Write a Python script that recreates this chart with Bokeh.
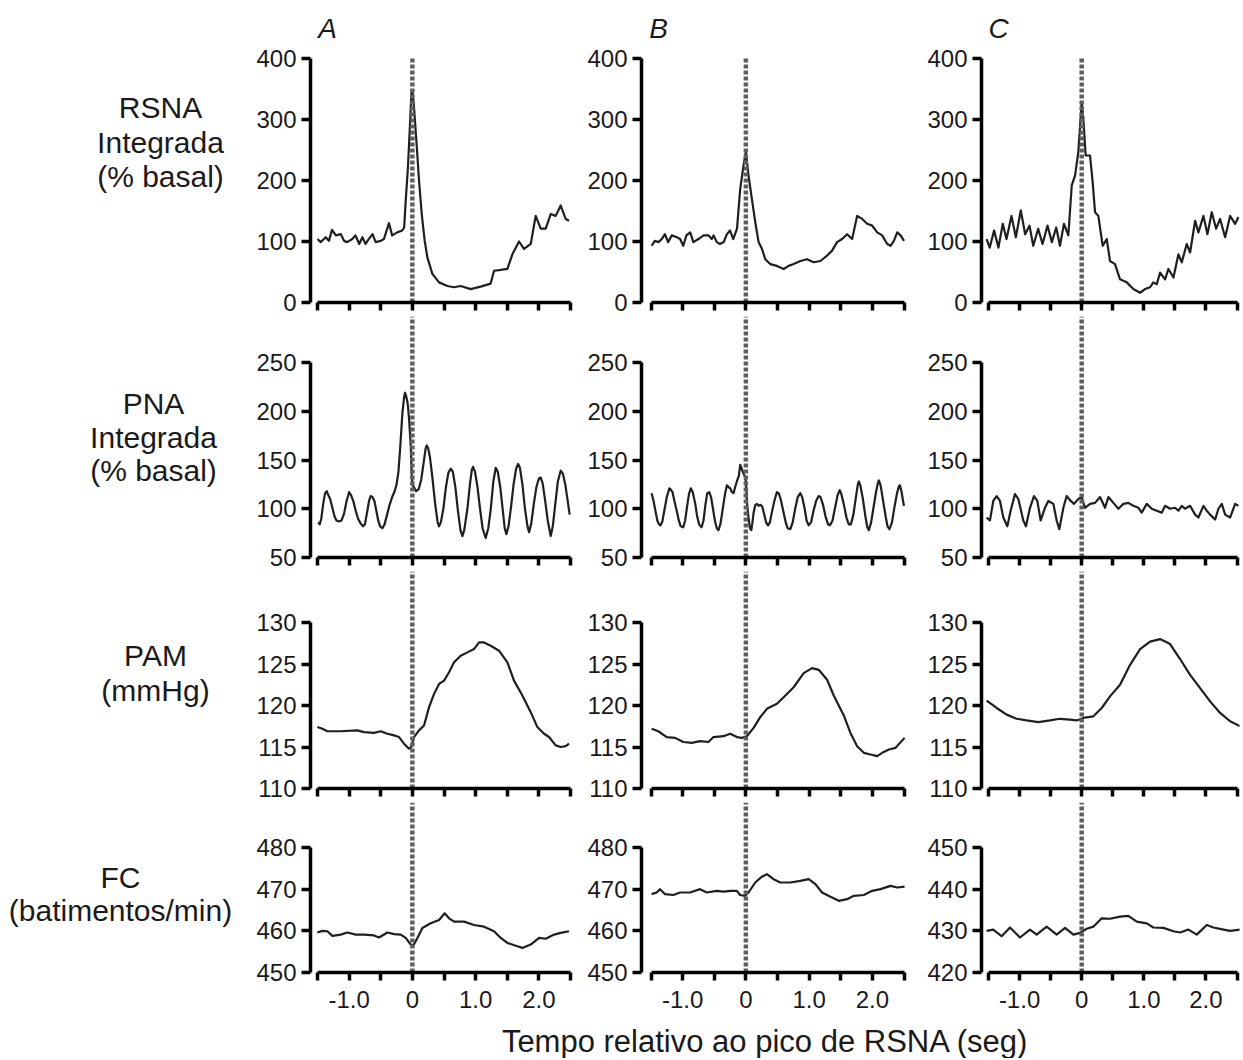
from bokeh.plotting import figure
from bokeh.layouts import row, column
from bokeh.models import Range1d, FixedTicker, CustomJSTickFormatter
from bokeh.core.properties import value
from bokeh.embed import file_html
from bokeh.resources import INLINE

FONT = "Liberation Sans"
LINE_COLOR = "#1f1f1f"
DASH_COLOR = "#5e5e5e"
TEXT_COLOR = "#1a1a1a"

# ---------------- texts / ticks ----------------
peak_time = 0.0
x_ticks = [-1.5, -1.0, -0.5, 0.0, 0.5, 1.0, 1.5, 2.0, 2.5]
col_letters = ["A", "B", "C"]
row_labels = [["RSNA", "Integrada", "(% basal)"],
              ["PNA", "Integrada", "(% basal)"],
              ["PAM", "(mmHg)"],
              ["FC", "(batimentos/min)"]]
x_title = "Tempo relativo ao pico de RSNA (seg)"

rsna_ticks = [0, 100, 200, 300, 400]
pna_ticks = [50, 100, 150, 200, 250]
pam_ticks = [110, 115, 120, 125, 130]
fc_ticks_ab = [450, 460, 470, 480]
fc_ticks_c = [420, 430, 440, 450]

# ---------------- data ----------------
rsna_a_t = [-1.50, -1.45, -1.37, -1.32, -1.27, -1.21, -1.13, -1.08, -1.03, -0.95, -0.90, -0.84, -0.79, -0.74, -0.69,
            -0.63, -0.58, -0.50, -0.45, -0.37, -0.32, -0.24, -0.16, -0.13, -0.105, -0.07, -0.037, -0.016, 0.0, 0.026,
            0.063, 0.105, 0.148, 0.195, 0.237, 0.316, 0.422, 0.553, 0.659, 0.764, 0.922, 1.080, 1.238, 1.291, 1.370,
            1.502, 1.581, 1.686, 1.765, 1.871, 1.950, 2.029, 2.108, 2.187, 2.266, 2.345, 2.424, 2.477]
rsna_a_v = [104, 99, 107, 101, 119, 110, 112, 101, 99, 104, 110, 96, 107, 96, 104,
            112, 99, 101, 104, 130, 110, 115, 118, 123, 167, 222, 293, 342, 348, 320,
            266, 200, 145, 101, 74, 47, 33, 27, 25, 27, 22, 26, 31, 52, 53,
            55, 79, 100, 88, 96, 142, 121, 121, 145, 142, 159, 137, 134]

rsna_b_t = [-1.49, -1.44, -1.38, -1.33, -1.28, -1.23, -1.17, -1.09, -1.04, -0.99, -0.94, -0.88, -0.83, -0.75, -0.67,
            -0.59, -0.54, -0.51, -0.46, -0.41, -0.35, -0.30, -0.25, -0.20, -0.14, -0.09, -0.037, 0.0, 0.042, 0.095,
            0.148, 0.201, 0.254, 0.306, 0.386, 0.491, 0.597, 0.676, 0.755, 0.861, 0.967, 1.072, 1.178, 1.284, 1.363,
            1.442, 1.521, 1.601, 1.680, 1.759, 1.838, 1.918, 1.997, 2.076, 2.155, 2.235, 2.287, 2.340, 2.393, 2.446,
            2.50]
rsna_b_v = [93, 101, 99, 104, 112, 99, 110, 107, 104, 93, 110, 115, 99, 104, 110,
            110, 104, 110, 99, 96, 99, 112, 118, 104, 121, 186, 225, 247, 208, 170,
            132, 99, 88, 71, 63, 60, 55, 60, 63, 68, 71, 66, 68, 77, 85,
            99, 104, 112, 104, 142, 137, 129, 126, 115, 110, 96, 93, 101, 115, 110,
            101]

rsna_c_t = [-1.53, -1.48, -1.41, -1.34, -1.27, -1.21, -1.13, -1.06, -0.98, -0.91, -0.84, -0.78, -0.70, -0.63, -0.55,
            -0.48, -0.41, -0.35, -0.285, -0.215, -0.16, -0.107, -0.054, 0.0, 0.027, 0.064, 0.134, 0.177, 0.215, 0.268,
            0.338, 0.403, 0.456, 0.537, 0.617, 0.725, 0.832, 0.940, 1.020, 1.101, 1.154, 1.208, 1.262, 1.342, 1.396,
            1.477, 1.557, 1.611, 1.691, 1.745, 1.826, 1.879, 1.960, 2.024, 2.094, 2.164, 2.228, 2.309, 2.389, 2.470,
            2.523]
rsna_c_v = [104, 90, 118, 90, 129, 104, 142, 107, 151, 112, 126, 93, 121, 96, 126,
            99, 123, 93, 129, 110, 192, 208, 247, 329, 301, 241, 241, 197, 148, 142,
            93, 104, 68, 63, 38, 33, 22, 16, 22, 25, 33, 30, 49, 38, 55,
            41, 79, 66, 96, 82, 134, 115, 142, 112, 148, 121, 137, 107, 142, 129,
            140]

pna_a_t = [-1.491, -1.465, -1.44, -1.41, -1.38, -1.354, -1.33, -1.30, -1.265, -1.23, -1.20, -1.16, -1.12, -1.08,
           -1.04, -1.001, -0.97, -0.93, -0.896, -0.86, -0.82, -0.78, -0.75, -0.72, -0.685, -0.66, -0.632, -0.60,
           -0.57, -0.54, -0.51, -0.474, -0.44, -0.40, -0.36, -0.32, -0.28, -0.25, -0.22, -0.19, -0.158, -0.13,
           -0.116, -0.10, -0.08, -0.069, -0.05, -0.026, -0.01, 0.005, 0.026, 0.06, 0.10, 0.14, 0.18, 0.21, 0.227,
           0.25, 0.28, 0.32, 0.36, 0.40, 0.422, 0.45, 0.49, 0.53, 0.57, 0.606, 0.64, 0.68, 0.72, 0.76, 0.791, 0.82,
           0.87, 0.91, 0.94, 0.959, 0.99, 1.03, 1.07, 1.11, 1.159, 1.20, 1.24, 1.28, 1.318, 1.35, 1.39, 1.43, 1.46,
           1.486, 1.52, 1.56, 1.60, 1.64, 1.671, 1.70, 1.74, 1.78, 1.82, 1.845, 1.88, 1.92, 1.96, 2.00, 2.029, 2.06,
           2.10, 2.14, 2.187, 2.22, 2.26, 2.30, 2.345, 2.38, 2.42, 2.46, 2.487]
pna_a_v = [86, 84, 90, 105, 116, 118, 114, 110, 101, 92, 88, 87, 88, 95,
           108, 117, 114, 107, 98, 90, 85, 82, 84, 95, 108, 113, 112, 108,
           98, 88, 82, 80, 84, 94, 104, 112, 118, 125, 138, 165, 198, 215,
           219, 216, 210, 205, 190, 165, 135, 124, 122, 118, 120, 130, 148, 162, 165,
           162, 152, 130, 105, 86, 82, 86, 100, 122, 137, 141, 138, 122, 98, 78, 72, 78,
           100, 125, 140, 143, 138, 122, 100, 80, 70, 80, 100, 128, 142, 138, 122, 98, 80,
           74, 82, 102, 125, 141, 146, 142, 125, 100, 82, 76, 85, 105, 122, 131, 132, 126,
           108, 88, 72, 82, 105, 128, 139, 136, 124, 106, 94]

pna_b_t = [-1.49, -1.46, -1.43, -1.40, -1.373, -1.35, -1.32, -1.29, -1.25, -1.21, -1.19, -1.16, -1.13, -1.09,
           -1.06, -1.03, -0.99, -0.96, -0.93, -0.90, -0.87, -0.84, -0.80, -0.77, -0.74, -0.70, -0.67, -0.64, -0.61,
           -0.58, -0.55, -0.52, -0.49, -0.46, -0.433, -0.40, -0.37, -0.33, -0.30, -0.27, -0.248, -0.22, -0.195,
           -0.17, -0.143, -0.11, -0.09, -0.06, -0.037, -0.015, 0.0, 0.02, 0.042, 0.065, 0.085, 0.10, 0.122, 0.15,
           0.175, 0.20, 0.23, 0.26, 0.29, 0.32, 0.35, 0.38, 0.41, 0.45, 0.49, 0.518, 0.55, 0.59, 0.63, 0.66, 0.703,
           0.74, 0.78, 0.82, 0.861, 0.89, 0.93, 0.96, 0.993, 1.03, 1.07, 1.11, 1.15, 1.18, 1.22, 1.26, 1.30, 1.33,
           1.37, 1.41, 1.45, 1.484, 1.51, 1.55, 1.59, 1.627, 1.66, 1.70, 1.74, 1.77, 1.786, 1.81, 1.85, 1.89, 1.92,
           1.944, 1.98, 2.02, 2.06, 2.09, 2.102, 2.13, 2.17, 2.21, 2.24, 2.27, 2.31, 2.35, 2.39, 2.42, 2.435, 2.46,
           2.48, 2.499]
pna_b_v = [116, 108, 98, 88, 84, 83, 87, 98, 112, 121, 120, 117, 108, 97,
           88, 82, 81, 88, 102, 115, 121, 117, 105, 92, 84, 81, 88, 104, 116,
           117, 112, 100, 88, 80, 78, 85, 98, 115, 124, 122, 121, 117, 116,
           122, 128, 134, 145, 140, 136, 133, 128, 105, 90, 80, 78, 84, 96, 104,
           105, 103, 104, 102, 94, 86, 83, 86, 96, 108, 117, 116, 110, 98, 86, 80, 79,
           86, 100, 112, 116, 112, 100, 88, 83, 86, 98, 108, 113, 112, 104, 92, 84, 83,
           88, 101, 114, 119, 115, 104, 91, 84, 84, 94, 112, 125, 128, 124, 110, 92, 81,
           78, 86, 102, 118, 127, 129, 124, 108, 92, 82, 79, 86, 102, 116, 123, 124, 118,
           110, 103]

pna_c_t = [-1.530, -1.477, -1.423, -1.369, -1.315, -1.262, -1.197, -1.144, -1.074, -1.020, -0.940, -0.897, -0.832,
           -0.768, -0.714, -0.660, -0.591, -0.537, -0.456, -0.403, -0.360, -0.295, -0.242, -0.177, -0.123, -0.054,
           0.0, 0.054, 0.134, 0.215, 0.295, 0.376, 0.430, 0.510, 0.591, 0.671, 0.752, 0.832, 0.913, 0.966, 1.047,
           1.128, 1.208, 1.289, 1.342, 1.423, 1.503, 1.557, 1.611, 1.664, 1.745, 1.826, 1.879, 1.960, 2.013, 2.067,
           2.148, 2.201, 2.255, 2.309, 2.389, 2.470, 2.523]
pna_c_v = [91, 88, 108, 113, 108, 91, 82, 98, 115, 110, 88, 82, 101,
           113, 108, 88, 101, 108, 105, 88, 79, 101, 113, 108, 105, 110,
           112, 101, 105, 106, 112, 101, 112, 106, 100, 105, 106, 103, 101, 96, 105,
           100, 98, 96, 103, 100, 101, 98, 103, 100, 103, 94, 91, 103, 98, 94,
           89, 100, 105, 94, 91, 105, 103]

pam_a_t = [-1.502, -1.423, -1.344, -1.133, -0.870, -0.764, -0.606, -0.501, -0.395, -0.290, -0.211, -0.132, -0.053,
           -0.016, 0.026, 0.105, 0.184, 0.264, 0.343, 0.422, 0.501, 0.580, 0.659, 0.764, 0.870, 0.975, 1.054, 1.133,
           1.238, 1.370, 1.502, 1.607, 1.739, 1.871, 1.976, 2.082, 2.161, 2.266, 2.345, 2.424, 2.477]
pam_a_v = [117.4, 117.2, 116.9, 116.9, 117.0, 116.8, 116.7, 116.9, 116.6, 116.4, 116.2, 115.4, 114.8,
           115.0, 116.2, 117.0, 117.6, 119.8, 121.4, 122.6, 123.0, 124.0, 125.2, 126.0, 126.4, 126.8, 127.6, 127.6,
           127.2, 126.6, 125.2, 123.0, 121.2, 119.2, 117.4, 116.6, 116.2, 115.2, 115.0, 115.1, 115.4]

pam_b_t = [-1.490, -1.384, -1.252, -1.120, -0.988, -0.856, -0.724, -0.592, -0.512, -0.354, -0.248, -0.143, -0.063,
           0.016, 0.122, 0.227, 0.333, 0.491, 0.597, 0.755, 0.914, 1.046, 1.152, 1.284, 1.389, 1.548, 1.653, 1.759,
           1.865, 1.970, 2.076, 2.155, 2.261, 2.367, 2.509]
pam_b_v = [117.2, 116.9, 116.2, 116.1, 115.6, 115.5, 115.7, 115.6, 116.2, 116.3, 116.6, 116.2, 116.1,
           116.3, 117.3, 118.6, 119.6, 120.2, 121.0, 122.2, 123.9, 124.5, 124.3, 123.1, 121.2, 118.8, 116.7, 115.1,
           114.3, 114.1, 113.9, 114.3, 114.7, 114.9, 116.1]

pam_c_t = [-1.530, -1.369, -1.208, -1.047, -0.886, -0.698, -0.510, -0.349, -0.188, -0.081, 0.027, 0.188, 0.322,
           0.456, 0.617, 0.779, 0.940, 1.101, 1.262, 1.423, 1.584, 1.745, 1.906, 2.067, 2.228, 2.389, 2.550]
pam_c_v = [120.6, 119.7, 118.9, 118.4, 118.2, 118.0, 118.2, 118.4, 118.3, 118.2, 118.5, 118.7, 119.7,
           121.1, 122.5, 124.9, 126.8, 127.7, 128.0, 127.4, 125.6, 123.7, 122.1, 120.5, 119.1, 118.1, 117.5]

fc_a_t = [-1.502, -1.423, -1.344, -1.265, -1.133, -1.028, -0.896, -0.764, -0.606, -0.527, -0.395, -0.290, -0.184,
          -0.105, -0.026, 0.016, 0.079, 0.158, 0.290, 0.422, 0.511, 0.580, 0.659, 0.817, 0.975, 1.133, 1.291, 1.397,
          1.502, 1.660, 1.739, 1.871, 2.003, 2.108, 2.240, 2.345, 2.477]
fc_a_v = [459.6, 460.0, 459.9, 458.8, 459.1, 459.6, 459.1, 459.1, 458.9, 458.4, 459.6, 459.2, 459.1,
          458.3, 456.7, 456.5, 458.3, 460.7, 461.8, 462.6, 464.2, 463.0, 462.2, 462.2, 461.4, 461.0, 459.9, 458.3,
          457.1, 456.3, 455.9, 456.7, 458.3, 458.1, 459.1, 459.5, 459.9]

fc_b_t = [-1.490, -1.410, -1.358, -1.278, -1.146, -1.041, -0.882, -0.724, -0.618, -0.460, -0.354, -0.248, -0.143,
          -0.090, -0.011, 0.042, 0.148, 0.254, 0.333, 0.438, 0.544, 0.703, 0.861, 0.993, 1.099, 1.204, 1.337, 1.469,
          1.601, 1.706, 1.865, 1.997, 2.129, 2.287, 2.393, 2.509]
fc_b_v = [468.8, 469.2, 470.0, 468.8, 468.6, 469.2, 469.2, 470.0, 469.2, 469.6, 469.4, 469.6, 469.6,
          468.6, 468.4, 469.2, 471.6, 473.0, 473.6, 472.4, 471.6, 471.6, 472.0, 472.4, 471.2, 469.2, 468.2, 467.2,
          467.6, 468.4, 468.6, 469.6, 470.0, 470.8, 470.4, 470.6]

fc_c_t = [-1.530, -1.423, -1.289, -1.154, -0.993, -0.832, -0.725, -0.564, -0.403, -0.268, -0.134, -0.027, 0.081,
          0.188, 0.322, 0.456, 0.617, 0.752, 0.886, 1.047, 1.154, 1.315, 1.477, 1.584, 1.718, 1.852, 2.013, 2.121,
          2.282, 2.389, 2.550]
fc_c_v = [430.0, 430.3, 428.7, 430.8, 428.4, 430.3, 429.1, 431.0, 429.1, 430.7, 429.1, 429.5, 430.5,
          431.0, 433.0, 432.9, 433.4, 433.6, 432.2, 431.8, 430.8, 430.7, 429.9, 429.6, 430.3, 429.1, 431.4, 430.8,
          430.3, 430.0, 430.3]

series = [
    [(rsna_a_t, rsna_a_v, rsna_ticks), (rsna_b_t, rsna_b_v, rsna_ticks), (rsna_c_t, rsna_c_v, rsna_ticks)],
    [(pna_a_t, pna_a_v, pna_ticks), (pna_b_t, pna_b_v, pna_ticks), (pna_c_t, pna_c_v, pna_ticks)],
    [(pam_a_t, pam_a_v, pam_ticks), (pam_b_t, pam_b_v, pam_ticks), (pam_c_t, pam_c_v, pam_ticks)],
    [(fc_a_t, fc_a_v, fc_ticks_ab), (fc_b_t, fc_b_v, fc_ticks_ab), (fc_c_t, fc_c_v, fc_ticks_c)],
]
for rr in series:
    for tt, vv, _ in rr:
        assert len(tt) == len(vv), (len(tt), len(vv))

# ---------------- layout (page pixel geometry) ----------------
MBL = 66
COLS = [dict(fl=310, xa=317, xb=570, fr=574, mbr=1),
        dict(fl=641, xa=650.5, xb=903.5, fr=907, mbr=8),
        dict(fl=981, xa=988, xb=1236.5, fr=1239, mbr=1)]
ROWS = [dict(ft=0, ytop=58, ybot=302, mbb=14),
        dict(ft=316, ytop=362, ybot=557, mbb=14),
        dict(ft=571, ytop=622, ybot=788, mbb=14),
        dict(ft=802, ytop=847, ybot=972, mbb=42)]
LETTER_POS = [(327, 28), (658, 28), (998, 28)]
DASH_TOP_ROW1 = 56
ROW_LABEL_POS = [(160, [107, 142, 176]), (153, [403, 437, 470]), (155, [655, 690]), (120, [877, 910])]
TITLE_POS = (765, 1041)
PAGE_LEFT, GRID_BOTTOM, PAGE_BOTTOM = 0, 1014, 1058
PAGE_RIGHT = 1240

TICK_FS = "24px"
LABEL_FS = "30px"
AXIS_W = 3.5

label_code = """
if (Math.abs(tick) < 1e-9) return "0";
if (Math.abs(tick - Math.round(tick)) < 1e-9) return tick.toFixed(1);
return "";
"""

columns = []
for c, cg in enumerate(COLS):
    figs = []
    xscale = (cg["xb"] - cg["xa"]) / 4.0
    x_start = -1.5 - (cg["xa"] - cg["fl"]) / xscale
    x_end = 2.5 + (cg["fr"] - cg["xb"]) / xscale
    for r, rg in enumerate(ROWS):
        tt, vv, ticks = series[r][c]
        ymin, ymax = ticks[0], ticks[-1]
        yscale = (rg["ybot"] - rg["ytop"]) / float(ymax - ymin)
        y_end = ymin + (rg["ybot"] - rg["ft"]) / yscale
        w = MBL + (cg["fr"] - cg["fl"]) + cg["mbr"]
        h = (rg["ybot"] - rg["ft"]) + rg["mbb"]
        p = figure(width=w, height=h, x_range=Range1d(x_start, x_end), y_range=Range1d(ymin, y_end),
                   min_border_left=MBL, min_border_right=cg["mbr"], min_border_top=0,
                   min_border_bottom=rg["mbb"], toolbar_location=None, output_backend="svg", tools="")
        p.grid.visible = False
        p.outline_line_color = None
        p.background_fill_color = "white"
        p.border_fill_color = "white"

        for ax in (p.xaxis[0], p.yaxis[0]):
            ax.axis_line_width = AXIS_W
            ax.axis_line_color = "black"
            ax.major_tick_line_width = AXIS_W
            ax.major_tick_line_color = "black"
            ax.minor_tick_line_color = None
            ax.major_tick_in = 0
            ax.major_label_text_font = FONT
            ax.major_label_text_color = TEXT_COLOR
            ax.major_label_text_font_size = TICK_FS

        xa = p.xaxis[0]
        xa.ticker = FixedTicker(ticks=x_ticks)
        xa.bounds = (x_ticks[0], x_ticks[-1])
        xa.major_tick_out = 8
        if r == len(ROWS) - 1:
            xa.formatter = CustomJSTickFormatter(code=label_code)
            xa.major_label_standoff = 10
        else:
            xa.formatter = CustomJSTickFormatter(code='return "";')
            xa.major_label_text_font_size = "0px"
            xa.major_label_standoff = 0

        ya = p.yaxis[0]
        ya.ticker = FixedTicker(ticks=ticks)
        ya.bounds = (ymin, ymax)
        ya.major_tick_out = 9
        ya.major_label_standoff = 5

        p.line(tt, vv, line_color=LINE_COLOR, line_width=2.2, line_join="round")

        if r == 0:
            dash_top = ymin + (rg["ybot"] - DASH_TOP_ROW1) / yscale
        else:
            dash_top = y_end
        p.segment(x0=[peak_time], y0=[ymin], x1=[peak_time], y1=[dash_top],
                  line_color=DASH_COLOR, line_width=4.5, line_dash="4 2")

        if r == 0:
            lx, ly = LETTER_POS[c]
            p.text(x=[-1.5 + (lx - cg["xa"]) / xscale], y=[ymin + (rg["ybot"] - ly) / yscale],
                   text=[col_letters[c]], text_font=value(FONT), text_font_style="italic",
                   text_font_size="28px", text_align="center", text_baseline="middle", text_color=TEXT_COLOR)
        figs.append(p)
    columns.append(column(*figs, spacing=0))

# left labels
lab = figure(width=COLS[0]["fl"] - MBL - PAGE_LEFT, height=GRID_BOTTOM,
             x_range=Range1d(PAGE_LEFT, COLS[0]["fl"] - MBL), y_range=Range1d(GRID_BOTTOM, 0),
             min_border=0, toolbar_location=None, output_backend="svg", tools="")
lab.axis.visible = False
lab.grid.visible = False
lab.outline_line_color = None
for (cx, ys), lines in zip(ROW_LABEL_POS, row_labels):
    lab.text(x=[cx] * len(lines), y=ys, text=lines, text_font=value(FONT), text_font_size=LABEL_FS,
             text_align="center", text_baseline="middle", text_color=TEXT_COLOR)

grid = row(lab, *columns, spacing=0)

tfig = figure(width=PAGE_RIGHT - PAGE_LEFT, height=PAGE_BOTTOM - GRID_BOTTOM,
              x_range=Range1d(PAGE_LEFT, PAGE_RIGHT), y_range=Range1d(PAGE_BOTTOM, GRID_BOTTOM),
              min_border=0, toolbar_location=None, output_backend="svg", tools="")
tfig.axis.visible = False
tfig.grid.visible = False
tfig.outline_line_color = None
tfig.text(x=[TITLE_POS[0]], y=[TITLE_POS[1]], text=[x_title], text_font=value(FONT), text_font_size="31px",
          text_align="center", text_baseline="middle", text_color=TEXT_COLOR)

page = column(grid, tfig, spacing=0)
open("out.html", "w").write(file_html(page, INLINE))
